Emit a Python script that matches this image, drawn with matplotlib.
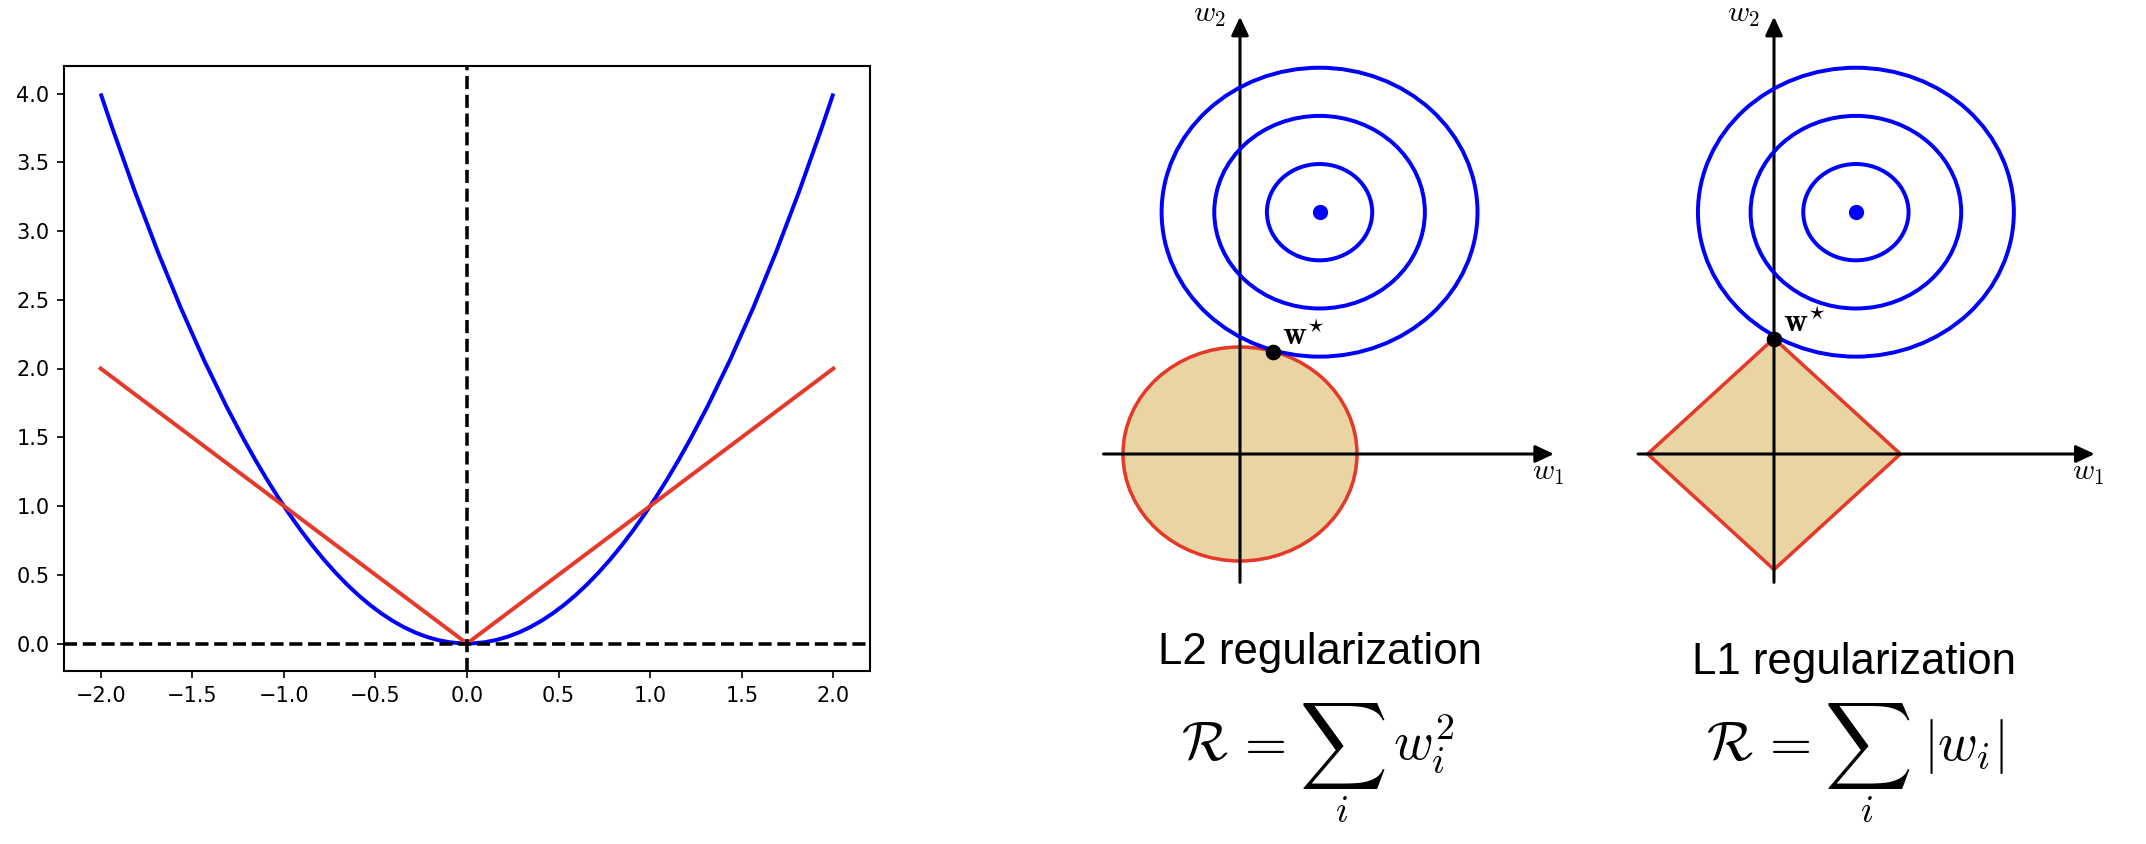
import numpy as np
import matplotlib
matplotlib.use("Agg")
import matplotlib.pyplot as plt
from matplotlib.path import Path
from matplotlib.patches import PathPatch, Circle, Polygon

plt.rcParams['mathtext.fontset'] = 'cm'

# left panel: the two penalty curves (ends + vertex)
sq_x = [-2.0, 0.0, 2.0]
sq_y = [4.0, 0.0, 4.0]
abs_x = [-2.0, 0.0, 2.0]
abs_y = [2.0, 0.0, 2.0]

# right panels, in units where the L2 ball has radius 1
contour_radii = [0.45, 0.90, 1.35]
l2_center = [0.68, 2.26]
l1_center = [0.70, 2.26]
l2_radius = 1.0
l1_half = 1.08
l2_wstar = [0.28, 0.95]
l1_wstar = [0.0, 1.075]

BLUE = '#0000ff'
RED = '#e53a2a'
TAN = '#e8d5a3'

W, H, DPI = 2146, 844, 150
fig = plt.figure(figsize=(W / DPI, H / DPI), dpi=DPI)
renderer = fig.canvas.get_renderer()


# place an axes by its pixel box (top-left origin)
def px_axes(left, top, right, bottom):
    return fig.add_axes([left / W, 1 - bottom / H, (right - left) / W, (bottom - top) / H])


# ---- left plot ----
ax = px_axes(64, 66, 870, 671)
# quadratic bezier through both ends that has the vertex at t=0.5
ctrl = (2 * sq_x[1] - (sq_x[0] + sq_x[2]) / 2, 2 * sq_y[1] - (sq_y[0] + sq_y[2]) / 2)
verts = [(sq_x[0], sq_y[0]), ctrl, (sq_x[2], sq_y[2])]
ax.add_patch(PathPatch(Path(verts, [Path.MOVETO, Path.CURVE3, Path.CURVE3]),
                       fc='none', ec=BLUE, lw=1.9))
ax.plot(abs_x, abs_y, color=RED, lw=1.9)
ax.axhline(0, color='k', ls='--', lw=1.7)
ax.axvline(0, color='k', ls='--', lw=1.7)
ax.set_xlim(-2.2, 2.2)
ax.set_ylim(-0.2, 4.2)
for s in ax.spines.values():
    s.set_linewidth(1.0)

# ---- right diagrams ----
UX, UY = 117, 107  # pixels per unit


def diagram(ox, oy):
    a = px_axes(ox - 1.5 * UX, oy - 4.3 * UY, ox + 3.2 * UX, oy + 1.4 * UY)
    a.set_xlim(-1.5, 3.2)
    a.set_ylim(-1.4, 4.3)
    a.axis('off')
    return a


def arrow(a, start, tip):
    a.annotate('', xy=tip, xytext=start, zorder=2,
               arrowprops=dict(arrowstyle='-|>,head_length=0.75,head_width=0.35',
                               lw=1.45, color='k', shrinkA=0, shrinkB=0, mutation_scale=10))


# formula drawn in pieces so the sum sign can be display-sized
def formula(a, sx, rhs, rhs_gap):
    base = -2.86
    a.text(sx - 57 / UX, base, r'$\mathcal{R}\,=$', fontsize=26, ha='right', va='baseline')
    sig = a.text(sx, base + 14 / UY, r'$\sum$', fontsize=26, ha='center', va='center')
    h = sig.get_window_extent(renderer=renderer).height
    sig.set_fontsize(26 * 90 / h)
    a.text(sx - 1 / UX, base - 62 / UY, r'$i$', fontsize=18, ha='center', va='baseline')
    a.text(sx + rhs_gap / UX, base, rhs, fontsize=26, ha='left', va='baseline')


def draw_common(a, center, wstar, title, xleft, xtip, title_y):
    for r in contour_radii:
        a.add_patch(Circle(center, r, fc='none', ec=BLUE, lw=1.9, zorder=3))
    a.plot(center[0], center[1], 'o', color=BLUE, ms=6.3, zorder=3)
    arrow(a, (xleft, 0), (xtip, 0))
    arrow(a, (0, -1.2), (0, 4.087))
    a.text(xtip - 0.19, -0.24, r'$w_1$', fontsize=14.5, ha='left', va='baseline')
    a.text(-0.12, 4.04, r'$w_2$', fontsize=14.5, ha='right', va='baseline')
    a.plot(wstar[0], wstar[1], 'o', color='k', ms=6.5, zorder=4)
    a.text(wstar[0] + 0.08, wstar[1] + 0.065, r'$\mathbf{w}^{\star}$', fontsize=16,
           ha='left', va='baseline', zorder=4)
    a.text(0.68, title_y, title, fontsize=21, family='Liberation Sans',
           ha='center', va='baseline')


a2 = diagram(1240, 454)
a2.add_patch(Circle((0, 0), l2_radius, fc=TAN, ec=RED, lw=1.7, zorder=1))
draw_common(a2, l2_center, l2_wstar, 'L2 regularization', -1.167, 2.684, -1.963)
formula(a2, 0.876, r'$w_i^2$', 51)

a1 = diagram(1774, 454)
diamond = [(l1_half, 0), (0, l1_half), (-l1_half, 0), (0, -l1_half)]
a1.add_patch(Polygon(diamond, closed=True, fc=TAN, ec=RED, lw=1.7, zorder=1))
draw_common(a1, l1_center, l1_wstar, 'L1 regularization', -1.162, 2.741, -2.059)
formula(a1, 0.80, r'$|w_i|$', 55)

fig.savefig('out.png', dpi=DPI)
